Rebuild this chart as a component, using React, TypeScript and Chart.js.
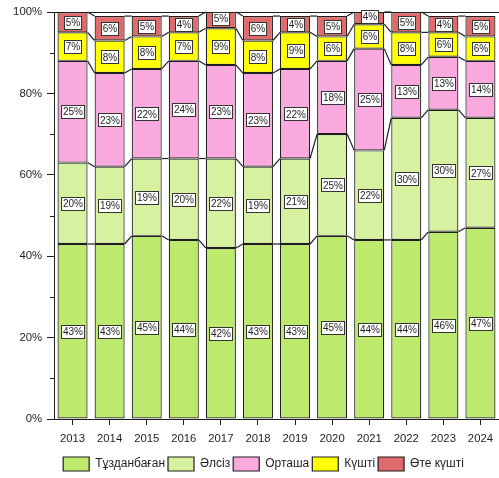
import React, { useEffect, useRef } from 'react';
import { Chart, registerables } from 'chart.js';

Chart.register(...registerables);

const years = ['2013', '2014', '2015', '2016', '2017', '2018', '2019', '2020', '2021', '2022', '2023', '2024'];
const tuzdanbagan = [43, 43, 45, 44, 42, 43, 43, 45, 44, 44, 46, 47];
const alsiz = [20, 19, 19, 20, 22, 19, 21, 25, 22, 30, 30, 27];
const ortasha = [25, 23, 22, 24, 23, 23, 22, 18, 25, 13, 13, 14];
const kushti = [7, 8, 8, 7, 9, 8, 9, 6, 6, 8, 6, 6];
const oteKushti = [5, 6, 5, 4, 5, 6, 4, 5, 4, 5, 4, 5];
const seriesNames = ['Тұзданбаған', 'Әлсіз', 'Орташа', 'Күшті', 'Өте күшті'];
const seriesColors = ['#BDEA6C', '#D6F1A0', '#FBAADF', '#FFFF00', '#E06B6D'];
const minorTicks = [10, 30, 50, 70, 90];

const FONT = '"Liberation Sans", Arial, sans-serif';
const INK = '#1e1e1e';

const legendShiftPlugin = {
  id: 'legendShift',
  beforeDraw(chart: any) {
    const lg = chart.legend;
    if (lg && !lg._shifted) {
      lg.left = lg.left + 27;
      lg.top = lg.top + 3;
      lg.bottom = lg.bottom + 3;
      lg._shifted = true;
    }
  },
};

const seriesLinesPlugin = {
  id: 'seriesLines',
  afterDatasetsDraw(chart: any) {
    const ctx = chart.ctx;
    const area = chart.chartArea;
    ctx.save();
    ctx.strokeStyle = INK;
    ctx.lineWidth = 1.2;
    chart.data.datasets.forEach((_ds: any, di: number) => {
      const meta = chart.getDatasetMeta(di);
      const els = meta.data;
      for (let i = 0; i < els.length - 1; i++) {
        const a = els[i].getProps(['x', 'y', 'width'], true);
        const b = els[i + 1].getProps(['x', 'y', 'width'], true);
        ctx.beginPath();
        ctx.moveTo(a.x + a.width / 2, Math.max(a.y, area.top));
        ctx.lineTo(b.x - b.width / 2, Math.max(b.y, area.top));
        ctx.stroke();
      }
    });
    // top frame line
    ctx.lineWidth = 1;
    ctx.beginPath();
    ctx.moveTo(area.left, Math.round(area.top) + 0.5);
    ctx.lineTo(chart.width, Math.round(area.top) + 0.5);
    ctx.stroke();
    // minor ticks
    const ys = chart.scales.y;
    minorTicks.forEach((v) => {
      const py = Math.round(ys.getPixelForValue(v)) + 0.5;
      ctx.beginPath();
      ctx.moveTo(area.left - 4, py);
      ctx.lineTo(area.left, py);
      ctx.stroke();
    });
    ctx.restore();
  },
};

const segLabelPlugin = {
  id: 'segLabels',
  afterDatasetsDraw(chart: any) {
    const ctx = chart.ctx;
    ctx.save();
    ctx.font = `10px ${FONT}`;
    ctx.textAlign = 'center';
    ctx.textBaseline = 'middle';
    chart.data.datasets.forEach((ds: any, di: number) => {
      const meta = chart.getDatasetMeta(di);
      meta.data.forEach((el: any, i: number) => {
        const v = ds.data[i];
        const p = el.getProps(['x', 'y', 'base'], true);
        const cy = (p.y + p.base) / 2;
        const text = `${v}%`;
        const tw = ctx.measureText(text).width;
        const w = Math.round(tw + 3);
        const h = 13;
        const rx = Math.round(p.x - w / 2) + 0.5;
        const ry = Math.round(cy - h / 2) + 0.5;
        ctx.fillStyle = '#ffffff';
        ctx.fillRect(rx, ry, w, h);
        ctx.strokeStyle = '#333';
        ctx.lineWidth = 1;
        ctx.strokeRect(rx, ry, w, h);
        ctx.fillStyle = INK;
        ctx.fillText(text, rx + w / 2, cy + 1);
      });
    });
    ctx.restore();
  },
};

export default function App() {
  const canvasRef = useRef<HTMLCanvasElement | null>(null);

  useEffect(() => {
    const canvas = canvasRef.current;
    if (!canvas) return;
    const values = [tuzdanbagan, alsiz, ortasha, kushti, oteKushti];
    const chart = new Chart(canvas, {
      type: 'bar',
      data: {
        labels: years,
        datasets: values.map((d, i) => ({
          label: seriesNames[i],
          data: d,
          backgroundColor: seriesColors[i],
          borderColor: INK,
          borderWidth: 1.2,
          borderSkipped: false,
          barPercentage: 0.81,
          categoryPercentage: 1,
        })),
      },
      options: {
        responsive: false,
        animation: false,
        devicePixelRatio: 1,
        layout: { padding: { left: 0, top: 12, right: 0, bottom: 0 } },
        scales: {
          x: {
            stacked: true,
            offset: true,
            grid: {
              offset: false,
              drawOnChartArea: false,
              drawTicks: true,
              tickLength: 6,
              color: INK,
            },
            border: { color: INK, width: 1 },
            ticks: { color: INK, font: { family: FONT, size: 11.3 }, padding: 7, maxRotation: 0 },
            afterFit: (scale: any) => {
              scale.height = 32;
            },
          },
          y: {
            stacked: true,
            min: 0,
            max: 100,
            grid: {
              drawOnChartArea: false,
              drawTicks: true,
              tickLength: 7,
              color: INK,
            },
            border: { color: INK, width: 1 },
            ticks: {
              stepSize: 20,
              color: INK,
              padding: 5,
              font: { family: FONT, size: 11.3 },
              callback: (v: any) => `${v}%`,
            },
            afterFit: (scale: any) => {
              scale.width = 54;
            },
          },
        },
        plugins: {
          tooltip: { enabled: false },
          legend: {
            position: 'bottom',
            labels: {
              boxWidth: 26,
              boxHeight: 14,
              padding: 3,
              color: INK,
              font: { family: FONT, size: 12 },
            },
          },
        },
      },
      plugins: [legendShiftPlugin, seriesLinesPlugin, segLabelPlugin],
    });
    return () => chart.destroy();
  }, []);

  return (
    <div style={{ position: 'fixed', left: 0, top: 0, width: 499, height: 478, overflow: 'hidden', background: '#fff' }}>
      <canvas ref={canvasRef} width={500} height={478} style={{ display: 'block' }} />
    </div>
  );
}
